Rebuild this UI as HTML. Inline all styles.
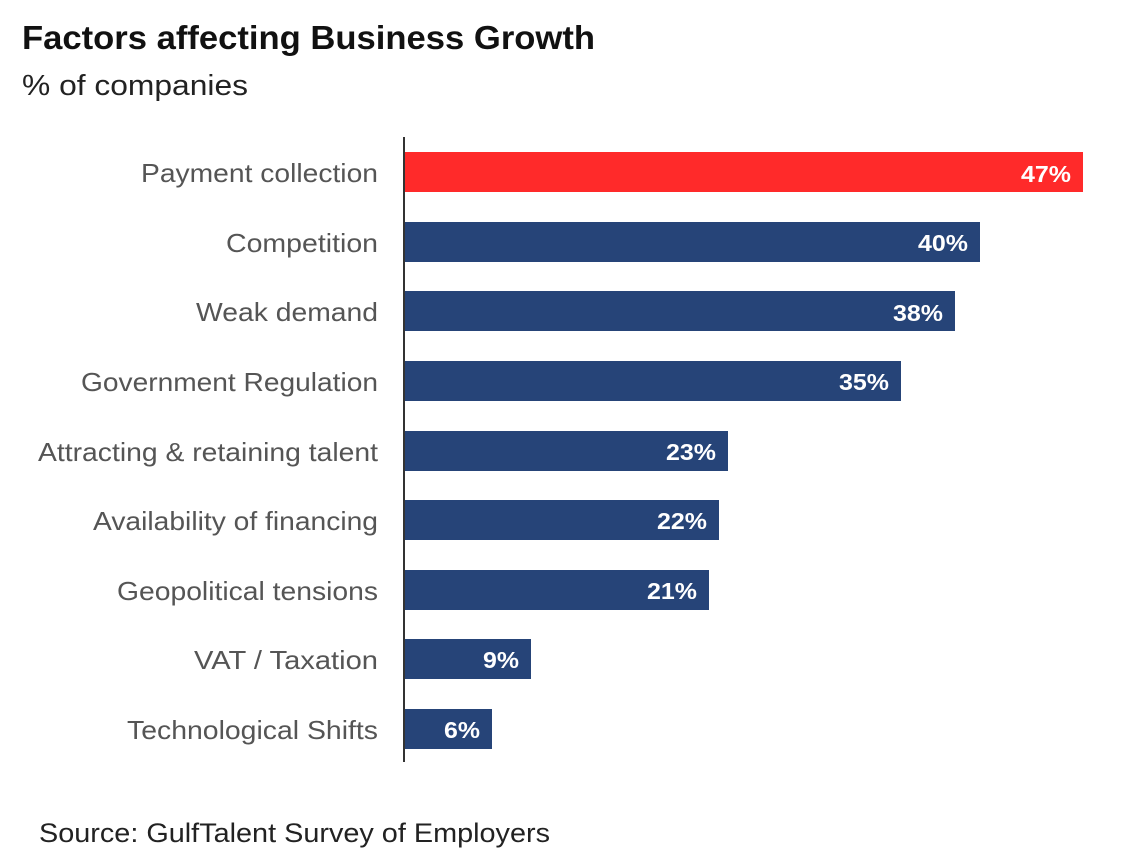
<!DOCTYPE html>
<html><head><meta charset="utf-8"><style>
body{margin:0;background:#fff;}
svg{display:block;font-family:"Liberation Sans",sans-serif;}
</style></head><body>
<svg width="1144" height="868" viewBox="0 0 1144 868">
<text x="22" y="49" font-size="33" font-weight="bold" fill="#111" textLength="573" lengthAdjust="spacingAndGlyphs">Factors affecting Business Growth</text>
<text x="22" y="95" font-size="29" fill="#222" textLength="226" lengthAdjust="spacingAndGlyphs">% of companies</text>
<g font-size="26" fill="#555" text-anchor="end" lengthAdjust="spacingAndGlyphs">
<text x="378" y="182" textLength="237" lengthAdjust="spacingAndGlyphs">Payment collection</text>
<text x="378" y="252" textLength="152" lengthAdjust="spacingAndGlyphs">Competition</text>
<text x="378" y="321" textLength="182" lengthAdjust="spacingAndGlyphs">Weak demand</text>
<text x="378" y="391" textLength="297" lengthAdjust="spacingAndGlyphs">Government Regulation</text>
<text x="378" y="461" textLength="340" lengthAdjust="spacingAndGlyphs">Attracting &amp; retaining talent</text>
<text x="378" y="530" textLength="285" lengthAdjust="spacingAndGlyphs">Availability of financing</text>
<text x="378" y="600" textLength="261" lengthAdjust="spacingAndGlyphs">Geopolitical tensions</text>
<text x="378" y="669" textLength="184" lengthAdjust="spacingAndGlyphs">VAT / Taxation</text>
<text x="378" y="739" textLength="251" lengthAdjust="spacingAndGlyphs">Technological Shifts</text>
</g>
<rect x="405" y="152" width="678" height="40" fill="#ff2a2a"/>
<g fill="#264478">
<rect x="405" y="222" width="575" height="40"/>
<rect x="405" y="291" width="550" height="40"/>
<rect x="405" y="361" width="496" height="40"/>
<rect x="405" y="431" width="323" height="40"/>
<rect x="405" y="500" width="314" height="40"/>
<rect x="405" y="570" width="304" height="40"/>
<rect x="405" y="639" width="126" height="40"/>
<rect x="405" y="709" width="87" height="40"/>
</g>
<line x1="404" y1="137" x2="404" y2="762" stroke="#333" stroke-width="2"/>
<g font-size="23" font-weight="bold" fill="#fff" text-anchor="end">
<text x="1071" y="182" textLength="50" lengthAdjust="spacingAndGlyphs">47%</text>
<text x="968" y="251" textLength="50" lengthAdjust="spacingAndGlyphs">40%</text>
<text x="943" y="321" textLength="50" lengthAdjust="spacingAndGlyphs">38%</text>
<text x="889" y="390" textLength="50" lengthAdjust="spacingAndGlyphs">35%</text>
<text x="716" y="460" textLength="50" lengthAdjust="spacingAndGlyphs">23%</text>
<text x="707" y="529" textLength="50" lengthAdjust="spacingAndGlyphs">22%</text>
<text x="697" y="599" textLength="50" lengthAdjust="spacingAndGlyphs">21%</text>
<text x="519" y="668" textLength="36" lengthAdjust="spacingAndGlyphs">9%</text>
<text x="480" y="738" textLength="36" lengthAdjust="spacingAndGlyphs">6%</text>
</g>
<text x="39" y="842" font-size="27" fill="#222" textLength="511" lengthAdjust="spacingAndGlyphs">Source: GulfTalent Survey of Employers</text>
</svg>
</body></html>
